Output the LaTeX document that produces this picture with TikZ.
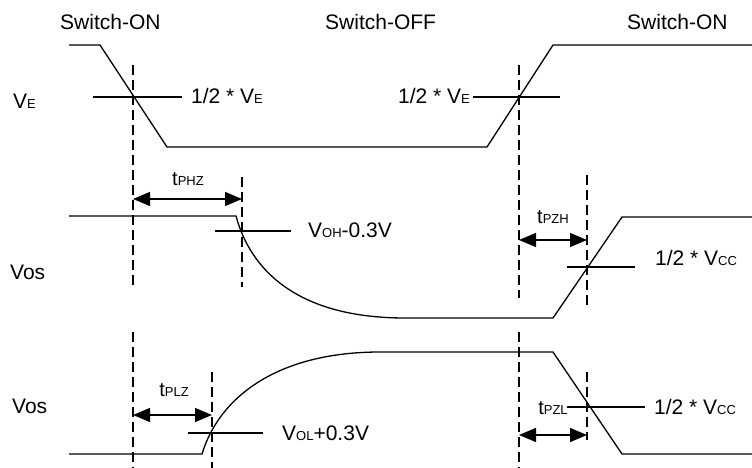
\documentclass[tikz,border=0pt]{standalone}
\usepackage{fontspec}
\setmainfont{Liberation Sans}
\usetikzlibrary{arrows.meta}
\newcommand\sm[1]{{\fontsize{13}{13}\selectfont #1}}
\newcommand\tsub[1]{{\fontsize{20}{20}\selectfont t}{\fontsize{13}{13}\selectfont #1}}
\tikzset{
  wave/.style={line width=1.3pt, line join=miter},
  guide/.style={line width=1.3pt},
  vdash/.style={line width=1.3pt, dash pattern=on 10pt off 5pt},
  dim/.style={line width=1.3pt, {Triangle[length=17pt,width=14pt]}-{Triangle[length=17pt,width=14pt]}},
  lab/.style={inner sep=0pt, anchor=base west, font=\fontsize{21}{24}\selectfont},
}
\begin{document}
\begin{tikzpicture}[x=1pt,y=-1pt]
\useasboundingbox (0,0) rectangle (752,468);
% titles
\node[lab] (t1) at (60,30) {Switch-ON};
\node[lab] (t2) at (325,30) {Switch-OFF};
\node[lab] (t3) at (627,30) {Switch-ON};
% row labels
\node[lab] (lve) at (13,109) {V\sm{E}};
\node[lab] (lv1) at (10,279) {Vos};
\node[lab] (lv2) at (12,413) {Vos};
% ---- VE waveform
\draw[wave] (69,45) -- (100,45) -- (167,147) -- (487,147) -- (553,45) -- (752,45);
\draw[guide] (93,97) -- (182,97);
\node[lab] (hve1) at (191,104) {1/2 * V\sm{E}};
\draw[guide] (473,97) -- (560,97);
\node[lab, anchor=base east] (hve2) at (470,104) {1/2 * V\sm{E}};
% ---- Vos row 1
\draw[wave] (69,216) -- (236,216) .. controls (250,268) and (295,318) .. (405,318) -- (553,318) -- (622,217) -- (752,217);
\draw[guide] (215,231) -- (291,231);
\node[lab] (voh) at (308,237) {V\sm{OH}-0.3V};
\draw[guide] (567,267) -- (635,267);
\node[lab] (vcc1) at (655,265) {1/2 * V\sm{CC}};
% ---- Vos row 2
\draw[wave] (69,454) -- (202,454) .. controls (220,395) and (280,352) .. (380,352) -- (553,352) -- (622,454) -- (752,454);
\draw[guide] (188,433) -- (263,433);
\node[lab] (vol) at (282,440) {V\sm{OL}+0.3V};
\draw[guide] (567,407) -- (645,407);
\node[lab] (vcc2) at (654,414) {1/2 * V\sm{CC}};
% ---- dashed guides
\draw[vdash] (133,65) -- (133,287);
\draw[vdash] (133,332) -- (133,468);
\draw[vdash] (242,177) -- (242,287);
\draw[vdash] (212,372) -- (212,468);
\draw[vdash] (519,65) -- (519,298);
\draw[vdash] (519,332) -- (519,468);
\draw[vdash] (587,175) -- (587,306);
\draw[vdash] (587,372) -- (587,440);
% ---- timing arrows
\coordinate (a1) at (133,199); \coordinate (b1) at (242,199);
\draw[dim] (a1) -- (b1);
\node[inner sep=0pt, anchor=base] (tphz) at (188,185) {\tsub{PHZ}};
\coordinate (a2) at (519,240); \coordinate (b2) at (587,240);
\draw[dim] (a2) -- (b2);
\node[inner sep=0pt, anchor=base] (tpzh) at (553,223) {\tsub{PZH}};
\coordinate (a3) at (133,415); \coordinate (b3) at (212,415);
\draw[dim] (a3) -- (b3);
\node[inner sep=0pt, anchor=base] (tplz) at (174,396) {\tsub{PLZ}};
\coordinate (a4) at (519,435); \coordinate (b4) at (587,435);
\draw[dim] (a4) -- (b4);
\node[inner sep=0pt, anchor=base] (tpzl) at (553,414) {\tsub{PZL}};
\end{tikzpicture}
\end{document}
